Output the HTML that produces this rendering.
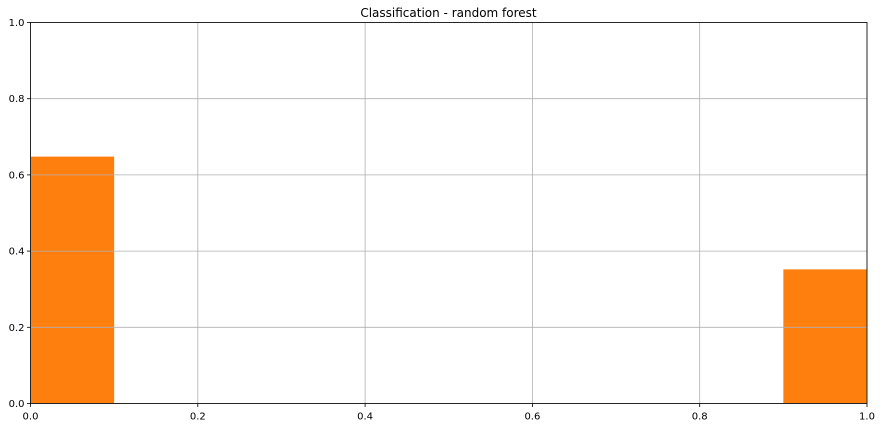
<!DOCTYPE html>
<html><head><style>body{margin:0;background:#fff}svg{display:block;font-family:"DejaVu Sans","Liberation Sans",sans-serif}</style></head>
<body>
<svg id="chart" width="882" height="427">
<text x="448.5" y="17" font-size="12" text-anchor="middle">Classification - random forest</text>
<g id="bars"></g><g id="grid"></g><g id="axes"></g>
</svg>
<script>
const binStarts=[0,0.1,0.2,0.3,0.4,0.5,0.6,0.7,0.8,0.9];
const binValues=[0.648,0,0,0,0,0,0,0,0,0.352];
const binWidth=0.1;
const xTicks=[0,0.2,0.4,0.6,0.8,1.0];
const yTicks=[0,0.2,0.4,0.6,0.8,1.0];
const L=30.5,R=867,T=22.5,B=403.5;
const sx=v=>L+v*(R-L), sy=v=>B-v*(B-T);
const NS="http://www.w3.org/2000/svg";
function mk(tag,attrs,parent){const e=document.createElementNS(NS,tag);for(const k in attrs)e.setAttribute(k,attrs[k]);parent.appendChild(e);return e;}
const bars=document.getElementById('bars'),grid=document.getElementById('grid'),axes=document.getElementById('axes');
binValues.forEach((v,i)=>{if(v<=0)return;
 const r=mk('rect',{x:sx(binStarts[i]),y:sy(v),width:sx(binStarts[i]+binWidth)-sx(binStarts[i]),height:sy(0)-sy(v),fill:'#ff7f0e'},bars);
 
 });
xTicks.forEach(t=>{const x=sx(t);
 const g=mk('line',{x1:x,x2:x,y1:T,y2:B,stroke:'#b0b0b0','stroke-width':0.8},grid);
 
 
 mk('line',{x1:x,x2:x,y1:B,y2:B+3.5,stroke:'#000','stroke-width':0.8},axes);
 const tx=mk('text',{x:x,y:B+16,'font-size':10,'text-anchor':'middle'},axes);tx.textContent=t.toFixed(1);
 
 });
yTicks.forEach(t=>{const y=sy(t);
 const g=mk('line',{x1:L,x2:R,y1:y,y2:y,stroke:'#b0b0b0','stroke-width':0.8},grid);
 
 
 mk('line',{x1:L-3.5,x2:L,y1:y,y2:y,stroke:'#000','stroke-width':0.8},axes);
 const tx=mk('text',{x:L-6,y:y+3.5,'font-size':10,'text-anchor':'end'},axes);tx.textContent=t.toFixed(1);
 
 });
const f=mk('rect',{x:L,y:T,width:R-L,height:B-T,fill:'none',stroke:'#000','stroke-width':0.8},axes);


</script>
</body></html>
